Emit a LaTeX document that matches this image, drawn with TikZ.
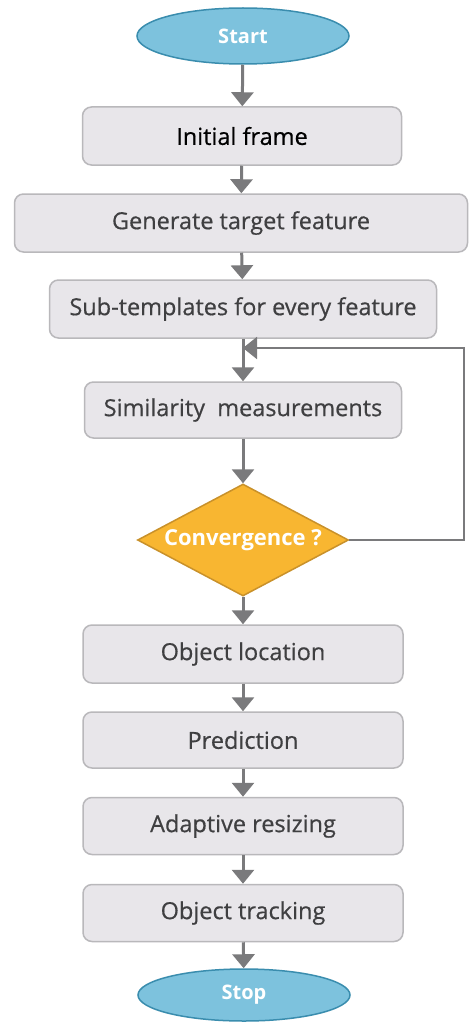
\documentclass[tikz,border=0pt]{standalone}
\usepackage{fontspec}
\setmainfont{Open Sans}
\newfontfamily\medfont{Open Sans}[FakeBold=0.5]
\usetikzlibrary{shapes.geometric,arrows.meta}
\definecolor{termfill}{HTML}{7DC2DD}
\definecolor{termline}{HTML}{3A8DAE}
\definecolor{boxfill}{HTML}{E8E6EA}
\definecolor{boxline}{HTML}{B9B8BB}
\definecolor{boxtext}{HTML}{3F3F41}
\definecolor{decfill}{HTML}{F8B631}
\definecolor{decline}{HTML}{C9912A}
\definecolor{flow}{HTML}{7A7A7C}
\begin{document}
\begin{tikzpicture}[x=1pt,y=-1pt,
  term/.style={ellipse, draw=termline, fill=termfill, line width=1.5pt, text=white,
    minimum width=212pt, minimum height=56pt, inner sep=0pt, font=\fontsize{20}{24}\selectfont\bfseries},
  stepbox/.style={rectangle, draw=boxline, fill=boxfill, line width=1.5pt, rounded corners=9pt,
    minimum height=58pt, inner sep=0pt, text=boxtext, font=\medfont\fontsize{23.5}{28}\selectfont},
  decision/.style={diamond, draw=decline, fill=decfill, line width=1.5pt, aspect=1.9,
    minimum width=211pt, minimum height=112pt, inner sep=0pt, text=white, font=\fontsize{22}{26}\selectfont\bfseries},
  flowline/.style={draw=flow, line width=3pt, -{Triangle[length=14pt,width=22pt]}}]
  \useasboundingbox (0,0) rectangle (469,1022);
  \fill[white] (0,0) rectangle (469,1022);

  \node[term] (start) at (243,36) {Start};
  \node[stepbox, minimum width=319pt, text=black] (init) at (242,136) {Initial frame};
  \node[stepbox, minimum width=453pt] (gen) at (241,223) {Generate target feature};
  \node[stepbox, minimum width=387pt] (sub) at (243,309) {Sub-templates for every feature};
  \node[stepbox, minimum width=317pt, minimum height=56pt] (sim) at (243,410) {Similarity\ \ measurements};
  \node[decision] (conv) at (243,540) {Convergence ?};
  \node[stepbox, minimum width=320pt] (loc) at (243,654) {Object location};
  \node[stepbox, minimum width=320pt, minimum height=56pt] (pred) at (243,740) {Prediction};
  \node[stepbox, minimum width=320pt, minimum height=57pt] (resize) at (243,826) {Adaptive resizing};
  \node[stepbox, minimum width=320pt, minimum height=57pt] (track) at (243,913) {Object tracking};
  \node[term, minimum height=52pt] (stop) at (244,995) {Stop};
  \coordinate (join) at (243,348);

  % main flow
  \draw[flowline] (start) -- (init);
  \draw[flowline] (init) -- (gen);
  \draw[flowline] (gen) -- (sub);
  \draw[flowline] (sub) -- (sim);
  \draw[flowline] (sim) -- (conv);
  \draw[flowline] (conv) -- (loc);
  \draw[flowline] (loc) -- (pred);
  \draw[flowline] (pred) -- (resize);
  \draw[flowline] (resize) -- (track);
  \draw[flowline] (track) -- (stop);
  % feedback loop
  \draw[flowline, line width=2pt] (conv.east) -- ++(115,0) |- (join);
\end{tikzpicture}
\end{document}
